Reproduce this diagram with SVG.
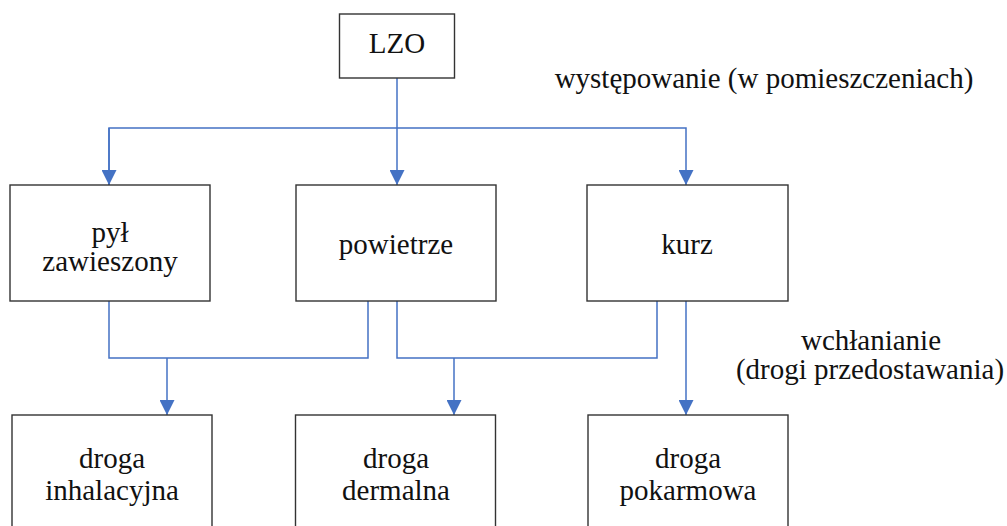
<svg xmlns="http://www.w3.org/2000/svg" width="1007" height="526" viewBox="0 0 1007 526">
<style>
.box{fill:#fff;stroke:#333;stroke-width:1.4}
.t{font-size:29px;fill:#111;text-anchor:middle}
.c{fill:none;stroke:#4472C4;stroke-width:1.5}
</style>
<defs>
<marker id="ah" markerUnits="userSpaceOnUse" markerWidth="15" markerHeight="15" refX="15" refY="7.5" orient="auto" viewBox="0 0 15 15">
<path d="M0,0 L15,7.5 L0,15 z" fill="#4472C4"/>
</marker>
</defs>
<rect width="1007" height="526" fill="#fff"/>
<g id="connectors">
<path class="c" d="M397,78 V185" marker-end="url(#ah)"/>
<path class="c" d="M109,185 V128 H686 V185" marker-end="url(#ah)"/>
<path class="c" d="M109,128 V185" marker-end="url(#ah)"/>
<path class="c" d="M109,301 V358 H368 V301"/>
<path class="c" d="M167,358 V415" marker-end="url(#ah)"/>
<path class="c" d="M397,301 V358 H657 V301"/>
<path class="c" d="M454,358 V415" marker-end="url(#ah)"/>
<path class="c" d="M686,301 V415" marker-end="url(#ah)"/>
</g>
<g font-family="Liberation Serif, Times New Roman, serif">
<g id="lzo"><rect class="box" x="339.5" y="14" width="115" height="64"/><text class="t" x="397" y="53">LZO</text></g>
<g id="label-wystepowanie"><text class="t" x="764" y="88">występowanie (w pomieszczeniach)</text></g>
<g id="pyl"><rect class="box" x="10" y="185" width="200" height="116"/><text class="t" x="110" y="242">pył</text><text class="t" x="110" y="271">zawieszony</text></g>
<g id="powietrze"><rect class="box" x="296" y="185" width="200" height="116"/><text class="t" x="396" y="254">powietrze</text></g>
<g id="kurz"><rect class="box" x="587" y="185" width="201" height="116"/><text class="t" x="687" y="254">kurz</text></g>
<g id="label-wchlanianie"><text class="t" x="871" y="350">wchłanianie</text><text class="t" x="870" y="379">(drogi przedostawania)</text></g>
<g id="inhalacyjna"><rect class="box" x="12" y="415" width="200" height="130"/><text class="t" x="112" y="468">droga</text><text class="t" x="112" y="500">inhalacyjna</text></g>
<g id="dermalna"><rect class="box" x="295.5" y="415" width="200" height="130"/><text class="t" x="396" y="468">droga</text><text class="t" x="396" y="500">dermalna</text></g>
<g id="pokarmowa"><rect class="box" x="588" y="415" width="200" height="130"/><text class="t" x="688" y="468">droga</text><text class="t" x="688" y="500">pokarmowa</text></g>
</g>
</svg>
